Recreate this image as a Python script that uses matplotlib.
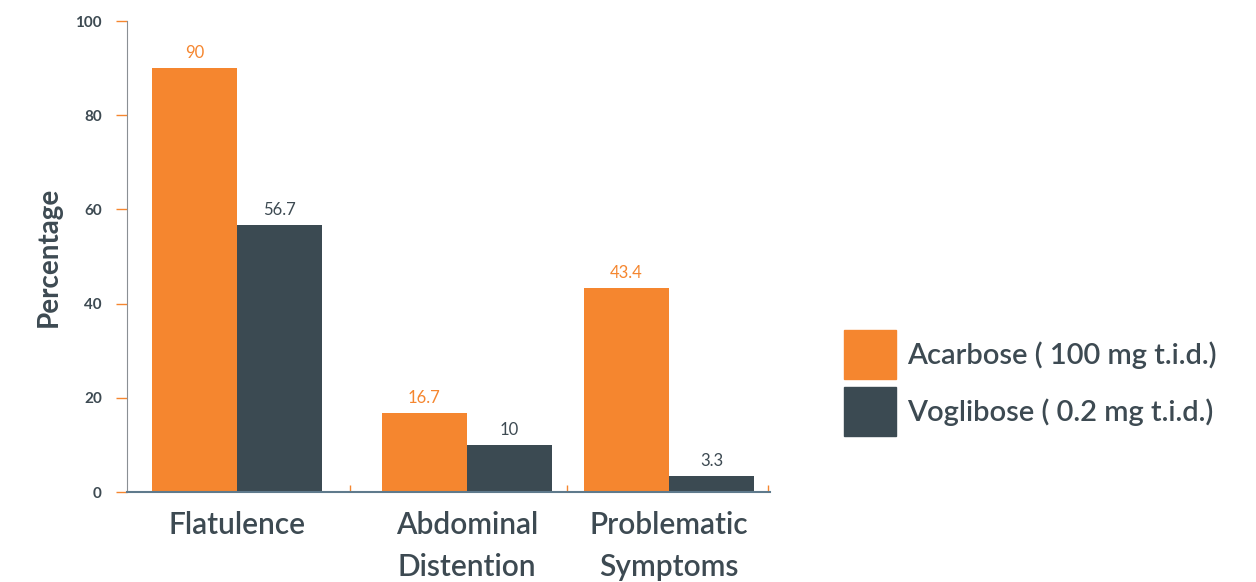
import matplotlib
matplotlib.use("Agg")
import matplotlib.pyplot as plt
from matplotlib.patches import Patch

categories = ["Flatulence", "Abdominal\nDistention", "Problematic\nSymptoms"]
acarbose = [90, 16.7, 43.4]
voglibose = [56.7, 10, 3.3]
series_names = ["Acarbose ( 100 mg t.i.d.)", "Voglibose ( 0.2 mg t.i.d.)"]
y_ticks = [0, 20, 40, 60, 80, 100]

ORANGE = "#F5862F"
DARK = "#3B4A52"
TEXT = "#3D4A52"

plt.rcParams["font.family"] = ["Lato", "DejaVu Sans"]

centers = [2.37, 4.67, 6.69]
width = 0.85

fig = plt.figure(figsize=(12.56, 5.82), dpi=100)
ax = fig.add_axes([0.1011, 0.1546, 0.5119, 0.8093])

left = [c - width / 2 for c in centers]
right = [c + width / 2 for c in centers]
bars_a = ax.bar(left, acarbose, width, color=ORANGE)
bars_v = ax.bar(right, voglibose, width, color=DARK)

for b, v in zip(bars_a, acarbose):
    ax.text(b.get_x() + b.get_width() / 2, v + 1.5, f"{v:g}", ha="center", va="bottom",
            color=ORANGE, fontsize=12)
for b, v in zip(bars_v, voglibose):
    ax.text(b.get_x() + b.get_width() / 2, v + 1.5, f"{v:g}", ha="center", va="bottom",
            color=TEXT, fontsize=12)

ax.set_xlim(1.27, 7.7)
ax.set_ylim(0, 100)
ax.set_yticks(y_ticks)
ax.tick_params(axis="y", colors=ORANGE, labelcolor=TEXT, labelsize=11, length=8, width=1, pad=10)
for t in ax.get_yticklabels():
    t.set_fontweight("bold")

ax.set_xticks([3.5, 5.67, 7.68])
ax.set_xticklabels([])
ax.tick_params(axis="x", direction="in", colors=ORANGE, length=5, width=1)
for c, name in zip(centers, categories):
    ax.text(c, -4.0, name, ha="center", va="top", fontsize=21.5, color=TEXT,
            fontweight="semibold", linespacing=1.6, transform=ax.transData)

for s in ["top", "right"]:
    ax.spines[s].set_visible(False)
ax.spines["left"].set_color("#8A8F94")
ax.spines["bottom"].set_color("#5F7A8C")
ax.spines["bottom"].set_linewidth(1.5)

ax.set_ylabel("Percentage", fontsize=20, fontweight="bold", color=TEXT, labelpad=10)

handles = [Patch(color=ORANGE), Patch(color=DARK)]
leg = fig.legend(handles, series_names, loc="center left", bbox_to_anchor=(0.651, 0.342),
                 frameon=False, handlelength=1.8, handleheight=2.2,
                 handletextpad=0.35, labelspacing=0.28,
                 prop={"size": 21, "weight": "semibold"})
for t in leg.get_texts():
    t.set_color(TEXT)

fig.savefig("out.png", dpi=100)
